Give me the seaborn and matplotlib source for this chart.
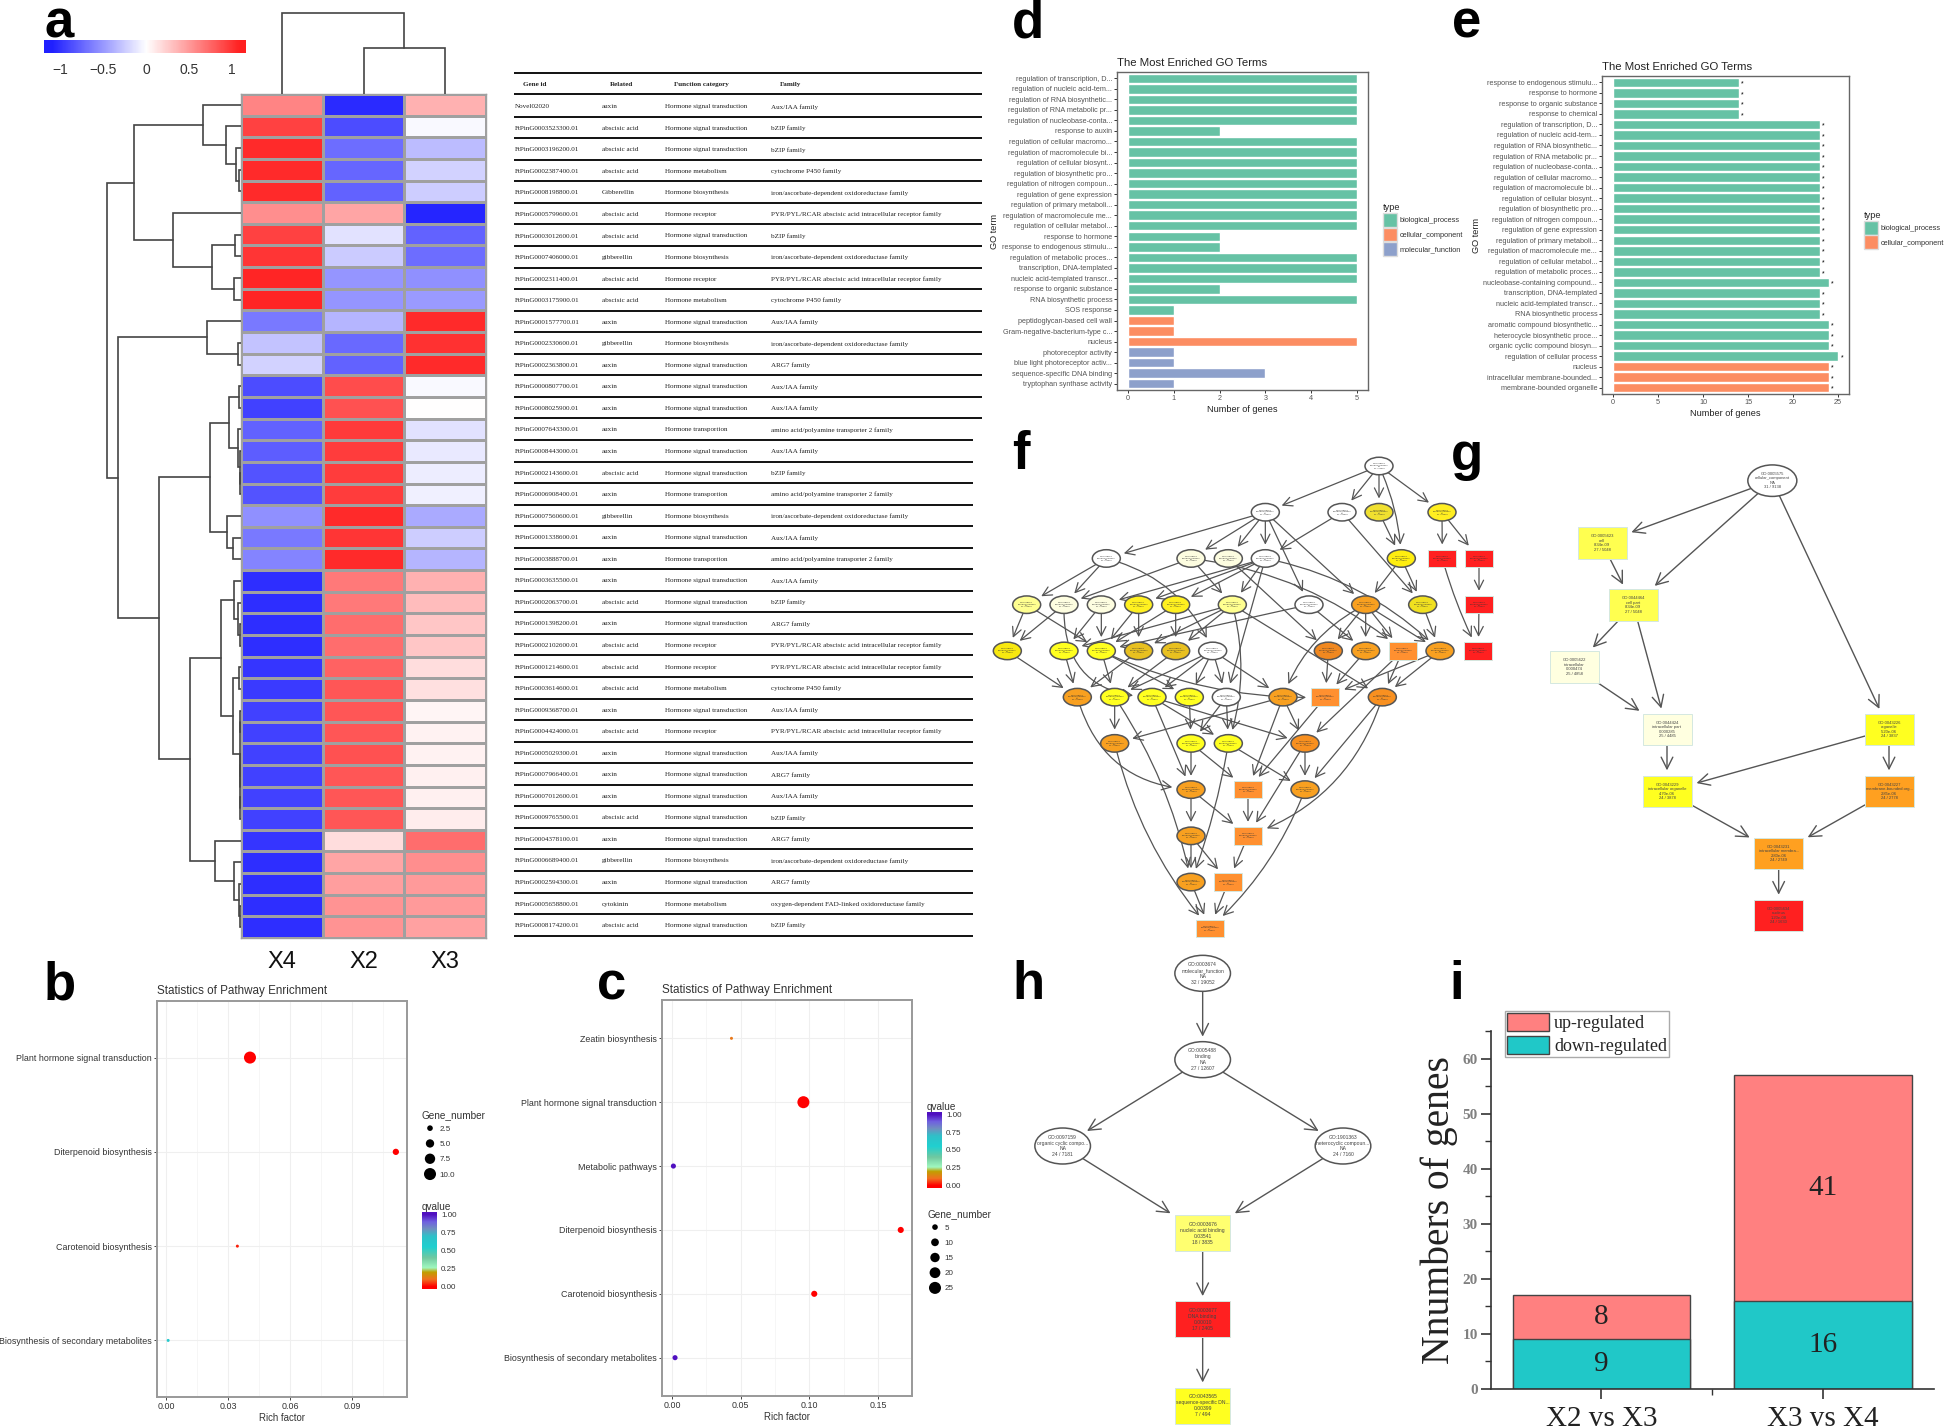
import matplotlib
matplotlib.use("Agg")
import matplotlib.pyplot as plt
import numpy as np
import pandas as pd
import seaborn as sns
from matplotlib.colors import LinearSegmentedColormap
from matplotlib.patches import Ellipse, FancyArrowPatch, Patch, Rectangle

W, H = 1946, 1428

sns.set_theme(style="white", rc={"xtick.bottom": True, "ytick.left": True})
plt.rcParams["font.family"] = ["Liberation Sans", "DejaVu Sans"]

# -------------------------------------------------------------------------
# Data: panel a
# -------------------------------------------------------------------------
heat_cols = ["X4", "X2", "X3"]
x4_vals = [0.55, 0.85, 0.95, 0.95, 0.95, 0.5, 0.85, 0.9, 0.97, 0.97, -0.6, -0.27, -0.2,
           -0.8, -0.85, -0.7, -0.72, -0.77, -0.77, -0.5, -0.6, -0.55,
           -0.93, -0.93, -0.93, -0.93, -0.9, -0.88, -0.85, -0.85, -0.85, -0.85, -0.85, -0.85,
           -0.9, -0.93, -0.93, -0.93, -0.93]
x2_vals = [-0.95, -0.8, -0.65, -0.68, -0.7, 0.4, -0.13, -0.23, -0.47, -0.47, -0.33, -0.67, -0.7,
           0.8, 0.78, 0.88, 0.87, 0.87, 0.87, 0.95, 0.9, 0.95,
           0.6, 0.6, 0.65, 0.65, 0.7, 0.75, 0.75, 0.75, 0.78, 0.75, 0.75, 0.75,
           0.15, 0.4, 0.43, 0.48, 0.48]
x3_vals = [0.35, -0.03, -0.3, -0.2, -0.22, -0.97, -0.7, -0.65, -0.5, -0.45, 0.95, 0.92, 0.95,
           -0.03, 0.0, -0.13, -0.1, -0.08, -0.07, -0.38, -0.22, -0.33,
           0.35, 0.3, 0.25, 0.25, 0.15, 0.14, 0.04, 0.06, 0.06, 0.07, 0.07, 0.08,
           0.65, 0.5, 0.45, 0.45, 0.42]

# dendrograms: (height, left, right), leaves are row / column numbers
t1 = (38, 0, (15, 1, (5, 2, (2, 3, 4))))
t2 = (68, 5, (29, (6, 6, 7), (7, 8, 9)))
t3 = (34, 10, (3, 11, 12))
t4 = (11.5, (1.5, 13, 14), (3, 15, (1, 16, (0.7, 17, 18))))
t5 = (14, 19, (7.5, 20, 21))
t6 = (20, (7, 22, (2.5, 23, (1, 24, 25))),
      (8, (2, 26, 27), (1, (0.7, 28, 29), (0.7, (0.5, 30, 31), (0.5, 32, 33)))))
t7 = (26, 34, (6.5, 35, (2, 36, (1, 37, 38))))
row_tree = (134, (107, t1, t2), (123, t3, (82, (31, t4, t5), (51, t6, t7))))
col_tree = (81, 0, (46, 1, 2))

cbar_ticks = [-1, -0.5, 0, 0.5, 1]
cbar_labels = ["\u22121", "\u22120.5", "0", "0.5", "1"]

# -------------------------------------------------------------------------
# Data: gene table
# -------------------------------------------------------------------------
HST = "Hormone signal transduction"
HM = "Hormone metabolism"
HB = "Hormone biosynthesis"
HR = "Hormone receptor"
HT = "Hormone transportion"
AUX = "Aux/IAA family"
BZ = "bZIP family"
P450 = "cytochrome P450 family"
IRON = "iron/ascorbate-dependent oxidoreductase family"
PYR = "PYR/PYL/RCAR abscisic acid intracellular receptor family"
AMINO = "amino acid/polyamine transporter 2 family"
ARG = "ARG7 family"
ABA = "abscisic acid"
GA = "gibberellin"

table_header = ["Gene id", "Related", "Function category", "Family"]
gene_ids = ["Novel02020", "FtPinG0003523300.01", "FtPinG0003196200.01", "FtPinG0002387400.01",
            "FtPinG0008198800.01", "FtPinG0005799600.01", "FtPinG0003012600.01", "FtPinG0007406000.01",
            "FtPinG0002311400.01", "FtPinG0003175900.01", "FtPinG0001577700.01", "FtPinG0002330600.01",
            "FtPinG0002363800.01", "FtPinG0000807700.01", "FtPinG0008025900.01", "FtPinG0007643300.01",
            "FtPinG0008443000.01", "FtPinG0002143600.01", "FtPinG0006908400.01", "FtPinG0007560600.01",
            "FtPinG0001338600.01", "FtPinG0003888700.01", "FtPinG0003635500.01", "FtPinG0002063700.01",
            "FtPinG0001398200.01", "FtPinG0002102600.01", "FtPinG0001214600.01", "FtPinG0003614600.01",
            "FtPinG0009368700.01", "FtPinG0004424000.01", "FtPinG0005029300.01", "FtPinG0007966400.01",
            "FtPinG0007012600.01", "FtPinG0009765500.01", "FtPinG0004378100.01", "FtPinG0006689400.01",
            "FtPinG0002594300.01", "FtPinG0005658800.01", "FtPinG0008174200.01"]
related = ["auxin", ABA, ABA, ABA, "Gibberellin", ABA, ABA, GA, ABA, ABA, "auxin", GA, "auxin",
           "auxin", "auxin", "auxin", "auxin", ABA, "auxin", GA, "auxin", "auxin", "auxin", ABA,
           "auxin", ABA, ABA, ABA, "auxin", ABA, "auxin", "auxin", "auxin", ABA, "auxin", GA,
           "auxin", "cytokinin", ABA]
functions = [HST, HST, HST, HM, HB, HR, HST, HB, HR, HM, HST, HB, HST, HST, HST, HT, HST, HST, HT,
             HB, HST, HT, HST, HST, HST, HR, HR, HM, HST, HR, HST, HST, HST, HST, HST, HB, HST, HM, HST]
families = [AUX, BZ, BZ, P450, IRON, PYR, BZ, IRON, PYR, P450, AUX, IRON, ARG, AUX, AUX, AMINO, AUX,
            BZ, AMINO, IRON, AUX, AMINO, AUX, BZ, ARG, PYR, PYR, P450, AUX, PYR, AUX, ARG, AUX, BZ,
            ARG, IRON, ARG, "oxygen-dependent FAD-linked oxidoreductase family", BZ]

# -------------------------------------------------------------------------
# Data: pathway bubbles (b, c)
# -------------------------------------------------------------------------
paths_b = ["Plant hormone signal transduction", "Diterpenoid biosynthesis",
           "Carotenoid biosynthesis", "Biosynthesis of secondary metabolites"]
rich_b = [0.0406, 0.1112, 0.0345, 0.001]
genes_b = [10, 3, 1, 1]
q_b = [0.0, 0.0, 0.03, 0.62]
levels_b = [2.5, 5.0, 7.5, 10.0]

paths_c = ["Zeatin biosynthesis", "Plant hormone signal transduction", "Metabolic pathways",
           "Diterpenoid biosynthesis", "Carotenoid biosynthesis", "Biosynthesis of secondary metabolites"]
rich_c = [0.0433, 0.0957, 0.001, 0.1666, 0.1036, 0.0022]
genes_c = [1, 25, 4, 6, 6, 4]
q_c = [0.12, 0.0, 1.0, 0.0, 0.0, 1.0]
levels_c = [5, 10, 15, 20, 25]

# -------------------------------------------------------------------------
# Data: GO bars (d, e)
# -------------------------------------------------------------------------
terms_d = ["regulation of transcription, D...", "regulation of nucleic acid-tem...",
           "regulation of RNA biosynthetic...", "regulation of RNA metabolic pr...",
           "regulation of nucleobase-conta...", "response to auxin", "regulation of cellular macromo...",
           "regulation of macromolecule bi...", "regulation of cellular biosynt...",
           "regulation of biosynthetic pro...", "regulation of nitrogen compoun...",
           "regulation of gene expression", "regulation of primary metaboli...",
           "regulation of macromolecule me...", "regulation of cellular metabol...",
           "response to hormone", "response to endogenous stimulu...", "regulation of metabolic proces...",
           "transcription, DNA-templated", "nucleic acid-templated transcr...",
           "response to organic substance", "RNA biosynthetic process", "SOS response",
           "peptidoglycan-based cell wall", "Gram-negative-bacterium-type c...", "nucleus",
           "photoreceptor activity", "blue light photoreceptor activ...",
           "sequence-specific DNA binding", "tryptophan synthase activity"]
counts_d = [5, 5, 5, 5, 5, 2, 5, 5, 5, 5, 5, 5, 5, 5, 5, 2, 2, 5, 5, 5, 2, 5, 1, 1, 1, 5, 1, 1, 3, 1]
types_d = ["biological_process"] * 23 + ["cellular_component"] * 3 + ["molecular_function"] * 4

terms_e = ["response to endogenous stimulu...", "response to hormone", "response to organic substance",
           "response to chemical", "regulation of transcription, D...", "regulation of nucleic acid-tem...",
           "regulation of RNA biosynthetic...", "regulation of RNA metabolic pr...",
           "regulation of nucleobase-conta...", "regulation of cellular macromo...",
           "regulation of macromolecule bi...", "regulation of cellular biosynt...",
           "regulation of biosynthetic pro...", "regulation of nitrogen compoun...",
           "regulation of gene expression", "regulation of primary metaboli...",
           "regulation of macromolecule me...", "regulation of cellular metabol...",
           "regulation of metabolic proces...", "nucleobase-containing compound...",
           "transcription, DNA-templated", "nucleic acid-templated transcr...", "RNA biosynthetic process",
           "aromatic compound biosynthetic...", "heterocycle biosynthetic proce...",
           "organic cyclic compound biosyn...", "regulation of cellular process", "nucleus",
           "intracellular membrane-bounded...", "membrane-bounded organelle"]
counts_e = [14, 14, 14, 14] + [23] * 15 + [24, 23, 23, 23, 24, 24, 24, 25, 24, 24, 24]
types_e = ["biological_process"] * 27 + ["cellular_component"] * 3

go_palette = {"biological_process": "#66C2A5", "cellular_component": "#FC8D62",
              "molecular_function": "#8DA0CB"}

# -------------------------------------------------------------------------
# Data: GO graphs (f, g, h). Node = name, column, row, shape, fill
# -------------------------------------------------------------------------
WHT, PALE, LIGHT, YEL, GOLD, ORG, ROR, RED = ("#ffffff", "#fdfde0", "#ffff90", "#ffff20",
                                              "#e8c020", "#f8a020", "#ff9030", "#ff2020")
f_nodes = [
    ("n0", 1197, 0, "o", WHT),
    ("a", 856, 1, "o", WHT), ("b", 1086, 1, "o", WHT), ("c", 1197, 1, "o", "#f0e030"), ("d", 1386, 1, "o", "#ffee20"),
    ("e", 379, 2, "o", WHT), ("f", 633, 2, "o", PALE), ("g", 745, 2, "o", PALE), ("h", 856, 2, "o", WHT),
    ("i", 1264, 2, "o", "#ffee10"), ("j", 1387, 2, "s", RED), ("r2", 1497, 2, "s", RED),
    ("k", 140, 3, "o", LIGHT), ("l", 252, 3, "o", PALE), ("m", 364, 3, "o", PALE), ("n", 476, 3, "o", "#fff020"),
    ("o", 587, 3, "o", "#fff020"), ("p", 757, 3, "o", LIGHT), ("q", 987, 3, "o", WHT), ("r", 1157, 3, "o", ORG),
    ("s", 1328, 3, "o", "#f0e020"), ("r3", 1497, 3, "s", RED),
    ("t", 82, 4, "o", "#f8e810"), ("u", 252, 4, "o", YEL), ("v", 364, 4, "o", YEL), ("w", 476, 4, "o", GOLD),
    ("x", 587, 4, "o", GOLD), ("y", 698, 4, "o", WHT), ("z", 1045, 4, "o", "#f08820"), ("aa", 1157, 4, "o", ORG),
    ("ab", 1268, 4, "s", ROR), ("ac", 1380, 4, "o", ORG), ("r4", 1495, 4, "s", RED),
    ("ad", 292, 5, "o", ORG), ("ae", 404, 5, "o", YEL), ("af", 516, 5, "o", YEL), ("ag", 628, 5, "o", YEL),
    ("ah", 739, 5, "o", WHT), ("ai", 909, 5, "o", ORG), ("aj", 1036, 5, "s", ROR), ("ak", 1207, 5, "o", "#f89020"),
    ("al", 404, 6, "o", ORG), ("am", 633, 6, "o", YEL), ("an", 745, 6, "o", YEL), ("ao", 975, 6, "o", "#f89020"),
    ("ap", 633, 7, "o", ORG), ("aq", 804, 7, "s", ROR), ("ar", 975, 7, "o", ORG),
    ("as", 633, 8, "o", ORG), ("at", 804, 8, "s", ROR),
    ("au", 633, 9, "o", ORG), ("av", 745, 9, "s", ROR),
    ("aw", 689, 10, "s", ROR),
]
# edge = source, target, bend
f_edges = [
    ("n0", "a", 0), ("n0", "b", 0), ("n0", "c", 0), ("n0", "i", -0.1), ("n0", "d", 0),
    ("a", "e", 0), ("a", "f", 0), ("a", "g", 0), ("a", "h", 0), ("a", "q", 0), ("a", "r", 0),
    ("b", "h", 0), ("b", "s", 0), ("c", "i", 0), ("d", "j", 0), ("d", "r2", 0),
    ("e", "k", 0), ("e", "l", 0), ("e", "y", -0.25), ("f", "l", 0), ("f", "p", 0), ("f", "ab", -0.15),
    ("g", "z", 0), ("h", "m", 0), ("h", "n", 0), ("h", "o", 0), ("h", "p", 0), ("h", "ah", 0), ("h", "ac", -0.15),
    ("i", "r", 0), ("i", "s", 0), ("j", "r4", 0.05), ("r2", "r3", 0), ("r3", "r4", 0),
    ("k", "t", 0), ("k", "v", 0), ("l", "t", 0), ("l", "af", 0.5), ("m", "u", 0), ("m", "v", 0),
    ("n", "v", 0), ("n", "w", 0), ("o", "v", 0), ("o", "x", 0),
    ("p", "u", 0), ("p", "w", 0), ("p", "x", 0), ("p", "an", -0.15), ("p", "ak", 0),
    ("q", "v", 0), ("q", "aa", 0), ("r", "z", 0), ("r", "aa", 0), ("r", "ab", 0), ("r", "ac", 0), ("r", "ai", 0.2),
    ("s", "ac", 0), ("t", "ad", 0), ("u", "ad", 0), ("v", "ae", 0), ("v", "ag", 0), ("v", "aj", 0.12),
    ("w", "ad", 0), ("x", "ae", 0), ("y", "af", 0), ("y", "ae", 0), ("y", "ag", 0), ("y", "ah", 0), ("y", "ai", 0),
    ("z", "aj", 0), ("aa", "aj", 0), ("ab", "ak", 0), ("ab", "ao", 0), ("ac", "aj", 0), ("ac", "ak", 0),
    ("ad", "ap", 0.35), ("ae", "al", 0), ("ae", "au", -0.1), ("af", "ap", 0), ("af", "an", 0), ("af", "ao", 0),
    ("ag", "am", 0), ("ah", "am", 0), ("ah", "an", 0), ("ai", "al", 0), ("ai", "aq", 0), ("ai", "ao", 0),
    ("aj", "aq", 0), ("ak", "ar", 0), ("ak", "at", -0.25), ("al", "aw", 0.12), ("am", "ap", 0), ("am", "aq", 0),
    ("an", "au", -0.05), ("an", "ar", 0), ("ao", "ar", 0), ("ao", "at", 0), ("ap", "as", 0), ("ap", "at", 0),
    ("aq", "at", 0), ("ar", "aw", -0.12), ("as", "au", 0), ("as", "av", 0), ("at", "av", 0), ("au", "aw", 0),
    ("av", "aw", 0),
]
f_label = "GO:0008150\nbiological_process\nNA\n31 / 13000"

g_nodes = [
    ("g1", 997, 152, "o", WHT, "GO:0005575\ncellular_component\nNA\n31 / 9138"),
    ("g2", 486, 339, "s", "#ffff50", "GO:0005623\ncell\n8.34e-09\n27 / 5048"),
    ("g3", 580, 525, "s", "#ffff50", "GO:0044464\ncell part\n8.34e-09\n27 / 5048"),
    ("g4", 403, 711, "s", "#ffffe0", "GO:0005622\nintracellular\n0.000474\n25 / 4858"),
    ("g5", 681, 898, "s", "#ffffe0", "GO:0044424\nintracellular part\n0.000285\n25 / 4485"),
    ("g6", 1347, 898, "s", YEL, "GO:0043226\norganelle\n5.20e-06\n24 / 3837"),
    ("g7", 681, 1084, "s", YEL, "GO:0043229\nintracellular organelle\n4.70e-06\n24 / 3878"),
    ("g8", 1347, 1084, "s", "#ffa020", "GO:0043227\nmembrane-bounded org...\n2.85e-06\n24 / 2778"),
    ("g9", 1016, 1271, "s", "#ffa020", "GO:0043231\nintracellular membra...\n2.80e-06\n24 / 2749"),
    ("g10", 1016, 1457, "s", RED, "GO:0005634\nnucleus\n1.20e-08\n24 / 1630"),
]
g_edges = [("g1", "g2"), ("g1", "g3"), ("g1", "g6"), ("g2", "g3"), ("g3", "g4"), ("g3", "g5"), ("g4", "g5"),
           ("g5", "g7"), ("g6", "g7"), ("g6", "g8"), ("g7", "g9"), ("g8", "g9"), ("g9", "g10")]

h_nodes = [
    ("h1", 608, 70, "o", WHT, "GO:0003674\nmolecular_function\nNA\n32 / 19052"),
    ("h2", 608, 329, "o", WHT, "GO:0005488\nbinding\nNA\n27 / 12607"),
    ("h3", 188, 588, "o", WHT, "GO:0097159\norganic cyclic compo...\nNA\n24 / 7181"),
    ("h4", 1029, 588, "o", WHT, "GO:1901363\nheterocyclic compoun...\nNA\n24 / 7160"),
    ("h5", 608, 850, "s", "#ffff70", "GO:0003676\nnucleic acid binding\n0.03541\n18 / 3835"),
    ("h6", 608, 1108, "s", RED, "GO:0003677\nDNA binding\n0.00010\n17 / 2405"),
    ("h7", 608, 1367, "s", YEL, "GO:0043565\nsequence-specific DN...\n0.00399\n7 / 494"),
]
h_edges = [("h1", "h2"), ("h2", "h3"), ("h2", "h4"), ("h3", "h5"), ("h4", "h5"), ("h5", "h6"), ("h6", "h7")]

# -------------------------------------------------------------------------
# Data: bars (i)
# -------------------------------------------------------------------------
compare = ["X2 vs X3", "X3 vs X4"]
up_reg = [8, 41]
down_reg = [9, 16]

panel_letters = ["a", "b", "c", "d", "e", "f", "g", "h", "i"]


# -------------------------------------------------------------------------
# Helpers
# -------------------------------------------------------------------------
def ax_px(fig, left, top, right, bottom):
    return fig.add_axes([left / W, 1 - bottom / H, (right - left) / W, (bottom - top) / H])


def draw_tree(ax, node, horizontal):
    # returns the leaf-axis position and height of a node
    if not isinstance(node, tuple):
        return node + 0.5, 0
    height, left, right = node
    p1, h1 = draw_tree(ax, left, horizontal)
    p2, h2 = draw_tree(ax, right, horizontal)
    hs = [h1, height, height, h2]
    ps = [p1, p1, p2, p2]
    if horizontal:
        ax.plot(hs, ps, color="#444444", lw=1.2, solid_joinstyle="miter")
    else:
        ax.plot(ps, hs, color="#444444", lw=1.2, solid_joinstyle="miter")
    return (p1 + p2) / 2, height


def bare(ax):
    ax.set_xticks([])
    ax.set_yticks([])
    for s in ax.spines.values():
        s.set_visible(False)


def go_bars(fig, box, terms, counts, types, xlim, xticks, legend_pos, stars=False):
    ax = ax_px(fig, *box)
    df = pd.DataFrame({"term": terms, "count": counts, "type": types})
    sns.barplot(data=df, y="term", x="count", hue="type", palette=go_palette, dodge=False,
                width=0.9, legend=False, ax=ax, saturation=1)
    ax.set_xlim(*xlim)
    ax.set_ylim(29.6, -0.6)
    ax.set_xticks(xticks)
    ax.tick_params(axis="both", labelsize=5.2, length=2, width=0.7, pad=1.5,
                   color="#333333", labelcolor="#555555")
    ax.set_xlabel("Number of genes", fontsize=6.6, labelpad=2, color="#222222")
    ax.set_ylabel("GO term", fontsize=6.6, labelpad=2, color="#222222")
    ax.set_title("The Most Enriched GO Terms", loc="left", fontsize=8.2, pad=4.5, color="#222222")
    for s in ax.spines.values():
        s.set_color("#666666")
        s.set_linewidth(1)
    if stars:
        for i, c in enumerate(counts):
            ax.text(c + 0.25, i + 0.15, "*", fontsize=5, ha="left", va="center", color="black")
    present = [t for t in go_palette if t in types]
    handles = [Patch(facecolor=go_palette[t], edgecolor="#dddddd", label=t) for t in present]
    leg = ax.legend(handles=handles, title="type", loc="upper left", frameon=False, fontsize=5.3,
                    title_fontsize=6.6, bbox_to_anchor=legend_pos, alignment="left",
                    handlelength=1.9, handleheight=2.5, labelspacing=0.1, handletextpad=0.35,
                    borderaxespad=0, borderpad=0)
    for t in leg.get_texts():
        t.set_color("#333333")
    return ax


def bubble(fig, box, paths, rich, genes, q, x_lim, x_major, x_minor, n_rows, size_norm):
    ax = ax_px(fig, *box)
    df = pd.DataFrame({"path": paths, "rich": rich, "genes": genes, "q": q})
    sns.scatterplot(data=df, x="rich", y="path", size="genes", sizes=(4.7, 75), size_norm=size_norm,
                    hue="q", palette=q_cmap, hue_norm=(0, 1), legend=False, linewidth=0, ax=ax, zorder=3)
    ax.set_xlim(*x_lim)
    ax.set_ylim(n_rows - 0.4, -0.6)
    ax.set_xticks(x_major)
    ax.set_xticks(x_minor, minor=True)
    ax.grid(True, which="major", color="#efefef", lw=0.8)
    ax.grid(True, which="minor", axis="x", color="#f5f5f5", lw=0.6)
    ax.tick_params(axis="both", which="major", labelsize=6.4, length=2, width=0.7, pad=1.5,
                   color="#444444", labelcolor="#333333")
    ax.tick_params(axis="x", which="minor", length=0)
    ax.set_xlabel("Rich factor", fontsize=6.9, labelpad=1.5, color="#333333")
    ax.set_ylabel("")
    ax.set_title("Statistics of Pathway Enrichment", loc="left", fontsize=8.4, pad=5, color="#333333")
    for s in ax.spines.values():
        s.set_color("#999999")
        s.set_linewidth(1.4)
    return ax


def q_legend(fig, left, top, bottom):
    ax = ax_px(fig, left, top, left + 15, bottom)
    ax.imshow(np.linspace(1.03, -0.03, 200)[:, None], cmap=q_cmap, vmin=0, vmax=1, aspect="auto",
              extent=(0, 1, -0.03, 1.03))
    ax.set_xticks([])
    ax.yaxis.tick_right()
    ax.set_yticks([0, 0.25, 0.5, 0.75, 1])
    ax.set_yticklabels(["0.00", "0.25", "0.50", "0.75", "1.00"])
    ax.tick_params(axis="y", labelsize=5.8, length=0, pad=3, labelcolor="#333333")
    for s in ax.spines.values():
        s.set_visible(False)
    ax.set_title("qvalue", loc="left", fontsize=7.2, pad=1, color="#333333")


def size_legend(fig, left, top, bottom, levels, labels, size_norm):
    ax = ax_px(fig, left, top, left + 16, bottom)
    df = pd.DataFrame({"x": [0] * len(levels), "y": list(range(len(levels))), "n": levels})
    sns.scatterplot(data=df, x="x", y="y", size="n", sizes=(4.7, 75), size_norm=size_norm,
                    color="black", legend=False, linewidth=0, ax=ax, clip_on=False)
    ax.set_xlim(-8, 8)
    ax.set_ylim(len(levels) - 0.5, -0.5)
    ax.set_xticks([])
    ax.set_xlabel("")
    ax.set_ylabel("")
    ax.yaxis.tick_right()
    ax.set_yticks(list(range(len(levels))))
    ax.set_yticklabels(labels)
    ax.tick_params(axis="y", labelsize=5.8, length=0, pad=1, labelcolor="#333333")
    for s in ax.spines.values():
        s.set_visible(False)
    ax.patch.set_alpha(0)
    ax.set_title("Gene_number", loc="left", fontsize=7.2, pad=2, color="#333333")


def draw_node(ax, x, y, w, h, shape, fill):
    if shape == "o":
        p = Ellipse((x, y), w, h, facecolor=fill, edgecolor="#555555", lw=1.1, zorder=3)
    else:
        p = Rectangle((x - w / 2, y - h / 2), w, h, facecolor=fill, edgecolor="#d4e8e0", lw=0.7, zorder=3)
    ax.add_patch(p)
    return p


def draw_edge(ax, p_from, p_to, start, end, rad=0, scale=13, lw=1.0):
    arrow = FancyArrowPatch(start, end, patchA=p_from, patchB=p_to, shrinkA=0, shrinkB=4,
                            arrowstyle="->,head_length=0.6,head_width=0.3", mutation_scale=scale,
                            connectionstyle=f"arc3,rad={rad}", color="#555555", lw=lw, zorder=2)
    ax.add_patch(arrow)


q_cmap = LinearSegmentedColormap.from_list("q", [
    (0.0, "#ff0000"), (0.1, "#f07020"), (0.2, "#c0a000"), (0.26, "#a0f8c0"), (0.4, "#70c8a0"),
    (0.55, "#20d0d0"), (0.7, "#30c0c8"), (0.8, "#7090c0"), (0.9, "#7060e0"), (1.0, "#5010c0")])
heat_cmap = LinearSegmentedColormap.from_list("heat", ["#2020ff", "#ffffff", "#ff2020"])

fig = plt.figure(figsize=(W / 100, H / 100), dpi=100, facecolor="white")

# -------------------------------------------------------------------------
# Panel a
# -------------------------------------------------------------------------
heat_df = pd.DataFrame({"X4": x4_vals, "X2": x2_vals, "X3": x3_vals}, columns=heat_cols)
ax_heat = ax_px(fig, 241, 94, 486, 938)
sns.heatmap(heat_df, cmap=heat_cmap, vmin=-1, vmax=1, cbar=False, linewidths=0.8, linecolor="#a0a0a0",
            yticklabels=False, ax=ax_heat)
ax_heat.tick_params(axis="x", labelsize=17, length=0, pad=9, labelcolor="#111111", rotation=0)
for s in ax_heat.spines.values():
    s.set_visible(True)
    s.set_color("#a0a0a0")
    s.set_linewidth(1)

ax_rd = ax_px(fig, 100, 94, 241, 938)
draw_tree(ax_rd, row_tree, True)
ax_rd.set_xlim(141, 0)
ax_rd.set_ylim(39, 0)
bare(ax_rd)
ax_rd.patch.set_alpha(0)

ax_cd = ax_px(fig, 241, 8, 486, 94)
draw_tree(ax_cd, col_tree, False)
ax_cd.set_xlim(0, 3)
ax_cd.set_ylim(0, 86)
bare(ax_cd)
ax_cd.patch.set_alpha(0)

ax_cb = ax_px(fig, 44, 40, 246, 53)
ax_cb.imshow(np.linspace(-1.19, 1.16, 300)[None, :], cmap=heat_cmap, vmin=-1.1, vmax=1.1, aspect="auto",
             extent=(-1.19, 1.16, 0, 1))
ax_cb.set_yticks([])
ax_cb.set_xticks(cbar_ticks)
ax_cb.set_xticklabels(cbar_labels)
ax_cb.tick_params(axis="x", labelsize=10, length=0, pad=7.5, labelcolor="#333333")
for s in ax_cb.spines.values():
    s.set_visible(False)

# -------------------------------------------------------------------------
# Panels b, c
# -------------------------------------------------------------------------
bubble(fig, (157, 1001, 407, 1397), paths_b, rich_b, genes_b, q_b, (-0.0044, 0.1166),
       [0, 0.03, 0.06, 0.09], [0.015, 0.045, 0.075, 0.105], 4, (1, 10))
size_legend(fig, 422, 1120.5, 1181.7, levels_b, ["2.5", "5.0", "7.5", "10.0"], (1, 10))
q_legend(fig, 422, 1212, 1289)

bubble(fig, (662, 1000, 912, 1396), paths_c, rich_c, genes_c, q_c, (-0.0073, 0.1748),
       [0, 0.05, 0.10, 0.15], [0.025, 0.075, 0.125], 6, (1, 25))
q_legend(fig, 927, 1112, 1188)
size_legend(fig, 927, 1219.5, 1295.5, levels_c, ["5", "10", "15", "20", "25"], (1, 25))

# -------------------------------------------------------------------------
# Panels d, e
# -------------------------------------------------------------------------
go_bars(fig, (1117, 72, 1368, 390), terms_d, counts_d, types_d, (-0.24, 5.24), [0, 1, 2, 3, 4, 5], (1.06, 0.587))
go_bars(fig, (1602, 76, 1849, 394), terms_e, counts_e, types_e, (-1.2, 26.2), [0, 5, 10, 15, 20, 25],
        (1.06, 0.575), stars=True)

# -------------------------------------------------------------------------
# Panel i
# -------------------------------------------------------------------------
ax_i = ax_px(fig, 1490.5, 1031, 1934, 1389)
totals = [u + d for u, d in zip(up_reg, down_reg)]
sns.barplot(x=compare, y=totals, color="#FF8080", saturation=1, width=0.8, edgecolor="#444444",
            linewidth=1, ax=ax_i)
sns.barplot(x=compare, y=down_reg, color="#20C8C8", saturation=1, width=0.8, edgecolor="#444444",
            linewidth=1, ax=ax_i)
ax_i.set_xlim(-0.5, 1.5)
ax_i.set_ylim(0, 65)
ax_i.set_yticks(range(0, 61, 10))
ax_i.set_yticks(range(0, 66, 5), minor=True)
ax_i.set_xticks([0.5], minor=True)
ax_i.tick_params(axis="y", which="major", length=7, width=1.2, color="#333333", pad=2)
ax_i.tick_params(axis="y", which="minor", left=True, length=4, width=1, color="#333333")
ax_i.tick_params(axis="x", which="major", length=7, width=1.2, color="#333333", pad=5)
ax_i.tick_params(axis="x", which="minor", bottom=True, length=4, width=1, color="#333333")
for lab in ax_i.get_yticklabels():
    lab.set(family="Liberation Serif", fontsize=11, weight="bold", color="#808080")
for lab in ax_i.get_xticklabels():
    lab.set(family="Liberation Serif", fontsize=21, color="#222222")
ax_i.set_ylabel("Nnumbers of genes", family="Liberation Serif", fontsize=28.5, color="#222222", labelpad=3)
ax_i.set_xlabel("")
ax_i.spines[["top", "right"]].set_visible(False)
ax_i.spines[["left", "bottom"]].set_color("#333333")
ax_i.spines[["left", "bottom"]].set_linewidth(1.2)
for i, (u, d) in enumerate(zip(up_reg, down_reg)):
    ax_i.text(i, d + u / 2, str(u), ha="center", va="center", family="Liberation Serif", fontsize=21, color="#222222")
    ax_i.text(i, d / 2, str(d), ha="center", va="center", family="Liberation Serif", fontsize=21, color="#222222")
leg_i = ax_i.legend(handles=[Patch(facecolor="#FF8080", edgecolor="#444444", label="up-regulated"),
                             Patch(facecolor="#20C8C8", edgecolor="#444444", label="down-regulated")],
                    loc="upper left", bbox_to_anchor=(0.033, 1.056), fancybox=False, edgecolor="#aaaaaa",
                    framealpha=1, prop={"family": "Liberation Serif", "size": 13},
                    handlelength=2.3, handleheight=1.15, labelspacing=0.2, handletextpad=0.3,
                    borderpad=0.12, borderaxespad=0)

# -------------------------------------------------------------------------
# Overlay in pixel coordinates: table, graphs, panel letters
# -------------------------------------------------------------------------
ov = fig.add_axes([0, 0, 1, 1], zorder=5)
ov.set_xlim(0, W)
ov.set_ylim(H, 0)
ov.axis("off")

col_x = [515, 602, 665, 771]
head_x = [523, 610, 674, 780]
ov.hlines([73.3, 94.3], 514, 982, color="#111111", lw=1.4)
for i, row in enumerate(zip(gene_ids, related, functions, families)):
    line_y = 116.7 + 21.55 * i
    ov.hlines(line_y, 514, 982 if i < 15 else 973, color="#111111", lw=1.4)
    for x, val in zip(col_x, row):
        ov.text(x, line_y - 10, val, family="Liberation Serif", fontsize=5.1, va="center", color="#222222")
for x, val in zip(head_x, table_header):
    ov.text(x, 84.7, val, family="Liberation Serif", fontsize=5.1, weight="bold", va="center", color="#222222")

# panel f
f_pos, f_patch = {}, {}
for name, col, row, shape, fill in f_nodes:
    x, y = 980 + col / 3, 466 + row * 46.23
    f_pos[name] = (x, y)
    f_patch[name] = draw_node(ov, x, y, 28, 17.5, shape, fill)
    ov.text(x, y, f_label, fontsize=1.6, ha="center", va="center", linespacing=1.1, color="#333333", zorder=4)
for src, dst, rad in f_edges:
    draw_edge(ov, f_patch[src], f_patch[dst], f_pos[src], f_pos[dst], rad, scale=11, lw=0.9)

# panel g
g_pos, g_patch = {}, {}
for name, zx, zy, shape, fill, label in g_nodes:
    x, y = 1440 + zx / 3, 430 + zy / 3
    g_pos[name] = (x, y)
    g_patch[name] = draw_node(ov, x, y, 49, 31.5, shape, fill)
    ov.text(x, y, label, fontsize=3.0, ha="center", va="center", linespacing=1.15, color="#444444", zorder=4)
for src, dst in g_edges:
    draw_edge(ov, g_patch[src], g_patch[dst], g_pos[src], g_pos[dst], 0, scale=14)

# panel h
h_pos, h_patch = {}, {}
for name, zx, zy, shape, fill, label in h_nodes:
    x, y = 1000 + zx / 3, 950 + zy / 3
    h_pos[name] = (x, y)
    h_patch[name] = draw_node(ov, x, y, 55.6, 36, shape, fill)
    ov.text(x, y, label, fontsize=3.6, ha="center", va="center", linespacing=1.2, color="#444444", zorder=4)
for src, dst in h_edges:
    draw_edge(ov, h_patch[src], h_patch[dst], h_pos[src], h_pos[dst], 0, scale=14)

letter_px = [(44, 37), (44, 999), (597, 999), (1012, 38), (1452, 37), (1012, 469), (1451, 470), (1012, 999), (1449, 999)]
for letter, (x, y) in zip(panel_letters, letter_px):
    ov.text(x, y, letter, fontsize=38, weight="bold", ha="left", va="baseline", color="black")

fig.savefig("out.png", dpi=100)
plt.close(fig)
